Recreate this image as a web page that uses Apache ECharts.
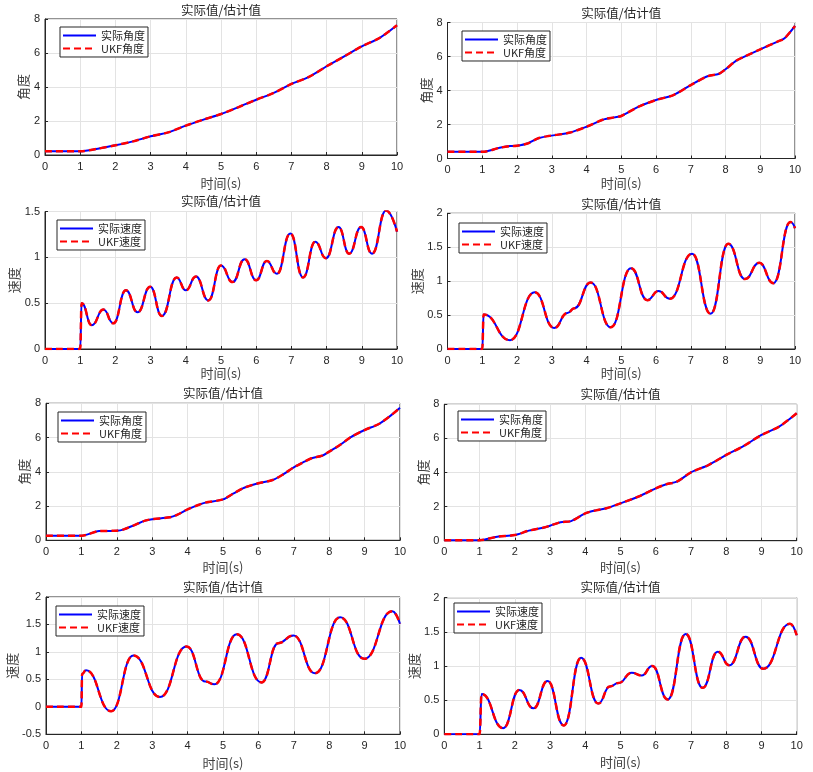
<!DOCTYPE html>
<html><head><meta charset="utf-8">
<script src="https://cdn.jsdelivr.net/npm/echarts@6/dist/echarts.min.js"></script>
<style>html,body{margin:0;padding:0;background:#fff}#c{width:813px;height:772px}</style>
</head><body><div id="c"></div>
<script>
// ---------- data ----------
const xTicks = [0, 1, 2, 3, 4, 5, 6, 7, 8, 9, 10];
const titleText = '实际值/估计值';
const xName = '时间(s)';
const angleName = '角度';
const speedName = '速度';
const angleLegend = ['实际角度', 'UKF角度'];
const speedLegend = ['实际速度', 'UKF速度'];

// panel 1 (row 1, left): angle
const t1 = [0, 1, 1.5, 2, 2.5, 3, 3.5, 4, 4.5, 5, 5.5, 6, 6.5, 7, 7.5, 8, 8.5, 9, 9.5, 10];
const ang1 = [0.22, 0.22, 0.37, 0.57, 0.80, 1.10, 1.33, 1.73, 2.08, 2.41, 2.82, 3.25, 3.65, 4.18, 4.59, 5.22, 5.80, 6.39, 6.88, 7.63];
const ukfAng1 = ang1;

// panel 2 (row 1, right): angle
const t2 = [0, 1, 1.5, 1.8, 2, 2.3, 2.6, 2.9, 3.5, 4, 4.5, 4.8, 5, 5.5, 6, 6.5, 7, 7.5, 7.8, 8, 8.3, 8.5, 9, 9.5, 9.7, 10];
const ang2 = [0.39, 0.39, 0.63, 0.73, 0.75, 0.88, 1.18, 1.32, 1.51, 1.87, 2.30, 2.42, 2.50, 3.05, 3.44, 3.73, 4.32, 4.85, 4.97, 5.25, 5.74, 5.95, 6.42, 6.88, 7.07, 7.80];
const ukfAng2 = ang2;

// panel 3 (row 2, left): speed
const t3 = [0, 1, 1.04, 1.33, 1.66, 1.94, 2.30, 2.63, 2.99, 3.32, 3.74, 4.0, 4.29, 4.64, 5.0, 5.33, 5.67, 6.0, 6.30, 6.59, 6.97, 7.33, 7.68, 7.98, 8.34, 8.64, 8.98, 9.29, 9.69, 10];
const spd3 = [0, 0, 0.50, 0.26, 0.43, 0.28, 0.64, 0.40, 0.68, 0.36, 0.78, 0.64, 0.79, 0.53, 0.91, 0.73, 0.98, 0.75, 0.96, 0.82, 1.26, 0.78, 1.17, 0.99, 1.33, 1.04, 1.33, 1.04, 1.51, 1.28];
const ukfSpd3 = spd3;

// panel 4 (row 2, right): speed
const t4 = [0, 1, 1.04, 1.8, 2.51, 3.07, 3.45, 3.65, 4.12, 4.70, 5.28, 5.75, 6.07, 6.40, 7.04, 7.57, 8.08, 8.56, 8.97, 9.38, 9.87, 10];
const spd4 = [0, 0, 0.51, 0.13, 0.835, 0.31, 0.53, 0.60, 0.98, 0.32, 1.19, 0.72, 0.855, 0.74, 1.405, 0.52, 1.55, 1.03, 1.27, 0.97, 1.87, 1.78];
const ukfSpd4 = spd4;

// panel 5 (row 3, left): angle
const t5 = [0, 1, 1.5, 2, 2.2, 2.5, 2.8, 3, 3.5, 3.7, 4, 4.3, 4.5, 5, 5.3, 5.6, 6, 6.4, 6.7, 7, 7.3, 7.5, 7.8, 8, 8.3, 8.6, 9, 9.4, 9.7, 10];
const ang5 = [0.27, 0.27, 0.54, 0.56, 0.64, 0.89, 1.15, 1.23, 1.34, 1.48, 1.81, 2.06, 2.20, 2.39, 2.74, 3.07, 3.33, 3.52, 3.85, 4.26, 4.59, 4.79, 4.94, 5.18, 5.56, 6.01, 6.44, 6.79, 7.22, 7.74];
const ukfAng5 = ang5;

// panel 6 (row 3, right): angle
const t6 = [0, 1, 1.5, 2, 2.4, 2.8, 3, 3.3, 3.6, 4, 4.3, 4.6, 5, 5.5, 6, 6.3, 6.6, 7, 7.5, 8, 8.5, 9, 9.5, 10];
const ang6 = [0.03, 0.03, 0.23, 0.33, 0.59, 0.76, 0.88, 1.08, 1.15, 1.60, 1.78, 1.90, 2.19, 2.58, 3.07, 3.31, 3.46, 4.01, 4.44, 5.03, 5.56, 6.20, 6.69, 7.48];
const ukfAng6 = ang6;

// panel 7 (row 4, left): speed
const t7 = [0, 1, 1.02, 1.13, 1.84, 2.47, 3.22, 3.97, 4.5, 4.76, 5.39, 6.09, 6.56, 6.99, 7.60, 8.31, 8.99, 9.78, 10];
const spd7 = [0, 0, 0.6, 0.665, -0.08, 0.935, 0.18, 1.10, 0.46, 0.41, 1.32, 0.445, 1.16, 1.30, 0.61, 1.63, 0.875, 1.74, 1.51];
const ukfSpd7 = spd7;

// panel 8 (row 4, right): speed
const t8 = [0, 1, 1.06, 1.67, 2.13, 2.53, 2.93, 3.39, 3.88, 4.37, 4.70, 4.94, 5.32, 5.60, 5.90, 6.34, 6.85, 7.33, 7.76, 8.09, 8.55, 9.05, 9.81, 10];
const spd8 = [0, 0, 0.59, 0.09, 0.65, 0.38, 0.78, 0.13, 1.12, 0.45, 0.70, 0.75, 0.90, 0.86, 1.0, 0.51, 1.47, 0.68, 1.21, 1.01, 1.43, 0.96, 1.62, 1.45];
const ukfSpd8 = spd8;

// y-axis tick ranges
const angleTicks = [0, 2, 4, 6, 8];
const speedTicks3 = [0, 0.5, 1, 1.5];
const speedTicks = [0, 0.5, 1, 1.5, 2];
const speedTicks7 = [-0.5, 0, 0.5, 1, 1.5, 2];

// ---------- layout ----------
const panels = [
  {t: t1, a: ang1, b: ukfAng1, kind: 'angle', ticks: angleTicks,  g: [45, 19, 352, 136],      lg: [60, 27],  yGap: 14, xGap: 22, ty: 10},
  {t: t2, a: ang2, b: ukfAng2, kind: 'angle', ticks: angleTicks,  g: [447.5, 22.5, 347.5, 136], lg: [462, 31], yGap: 13, xGap: 18, ty: 13},
  {t: t3, a: spd3, b: ukfSpd3, kind: 'speed', ticks: speedTicks3, g: [45, 211.5, 352, 137.5],  lg: [57, 220], yGap: 21, xGap: 17, ty: 201},
  {t: t4, a: spd4, b: ukfSpd4, kind: 'speed', ticks: speedTicks,  g: [447.5, 213.3, 347.5, 135.7], lg: [459, 223], yGap: 21, xGap: 18, ty: 204},
  {t: t5, a: ang5, b: ukfAng5, kind: 'angle', ticks: angleTicks,  g: [46, 403.3, 354, 137],    lg: [58, 412], yGap: 12, xGap: 20, ty: 393},
  {t: t6, a: ang6, b: ukfAng6, kind: 'angle', ticks: angleTicks,  g: [444.3, 404.3, 352.4, 136.4], lg: [458, 411], yGap: 14, xGap: 20, ty: 394},
  {t: t7, a: spd7, b: ukfSpd7, kind: 'speed', ticks: speedTicks7, g: [46, 597, 354, 137.3],    lg: [56, 606], yGap: 24, xGap: 22, ty: 587},
  {t: t8, a: spd8, b: ukfSpd8, kind: 'speed', ticks: speedTicks,  g: [444.3, 597.7, 352.4, 136.6], lg: [454, 603], yGap: 22, xGap: 21, ty: 587}
];

const CJK = '"Noto Sans CJK SC", sans-serif';
const NUM = '"Liberation Sans", Arial, sans-serif';
const AX = '#262626';

const grid = [], xAxis = [], yAxis = [], series = [], legend = [], graphic = [];
panels.forEach((p, i) => {
  const [l, tp, w, h] = p.g;
  grid.push({left: l, top: tp, width: w, height: h, show: true, borderColor: AX, borderWidth: 1, backgroundColor: '#fff'});
  xAxis.push({
    type: 'value', gridIndex: i, min: xTicks[0], max: xTicks[xTicks.length - 1], interval: xTicks[1] - xTicks[0],
    name: xName, nameLocation: 'middle', nameGap: p.xGap,
    nameTextStyle: {fontFamily: CJK, fontSize: 13, color: '#404040'},
    axisLine: {show: true, onZero: false, lineStyle: {color: AX, width: 1}},
    axisTick: {show: true, inside: true, length: 3, lineStyle: {color: AX}},
    axisLabel: {fontFamily: NUM, fontSize: 11, color: AX, margin: 6},
    splitLine: {show: true, lineStyle: {color: '#e3e3e3', width: 1}}
  });
  const tk = p.ticks;
  yAxis.push({
    type: 'value', gridIndex: i, min: tk[0], max: tk[tk.length - 1], interval: tk[1] - tk[0],
    name: p.kind === 'angle' ? angleName : speedName, nameLocation: 'middle', nameGap: p.yGap, nameRotate: 90,
    nameTextStyle: {fontFamily: CJK, fontSize: 13, color: '#404040'},
    axisLine: {show: true, onZero: false, lineStyle: {color: AX, width: 1}},
    axisTick: {show: true, inside: true, length: 3, lineStyle: {color: AX}},
    axisLabel: {fontFamily: NUM, fontSize: 11, color: AX, margin: 5},
    splitLine: {show: true, lineStyle: {color: '#e3e3e3', width: 1}}
  });
  const names = p.kind === 'angle' ? angleLegend : speedLegend;
  const sm = p.kind === 'speed' ? {smooth: 0.5, smoothMonotone: 'x'} : {smooth: 0.3};
  series.push(Object.assign({
    type: 'line', name: names[0], xAxisIndex: i, yAxisIndex: i, symbol: 'none', animation: false,
    data: p.t.map((x, k) => [x, p.a[k]]),
    lineStyle: {color: '#0000ff', width: 2}, itemStyle: {color: '#0000ff'}, z: 2
  }, sm));
  series.push(Object.assign({
    type: 'line', name: names[1], xAxisIndex: i, yAxisIndex: i, symbol: 'none', animation: false,
    data: p.t.map((x, k) => [x, p.b[k]]),
    lineStyle: {color: '#ff0000', width: 2.5, type: [7, 4]}, itemStyle: {color: '#ff0000'}, z: 3
  }, sm));
  legend.push({
    data: names, left: p.lg[0], top: p.lg[1], orient: 'vertical',
    backgroundColor: '#fff', borderColor: AX, borderWidth: 1, borderRadius: 0,
    padding: [3, 3, 3, 2], itemGap: 2, itemWidth: 33, itemHeight: 12,
    itemStyle: {opacity: 0},
    textStyle: {fontFamily: CJK, fontSize: 11, color: '#262626'},
    selectedMode: false
  });
  graphic.push({
    type: 'text', x: l + w / 2, y: p.ty, silent: true,
    style: {text: titleText, align: 'center', verticalAlign: 'middle', fontFamily: CJK, fontSize: 12.5, fill: '#262626'}
  });
});

const chart = echarts.init(document.getElementById('c'), null, {renderer: 'canvas'});
chart.setOption({backgroundColor: '#fff', animation: false, grid, xAxis, yAxis, series, legend, graphic});
</script>
</body></html>
